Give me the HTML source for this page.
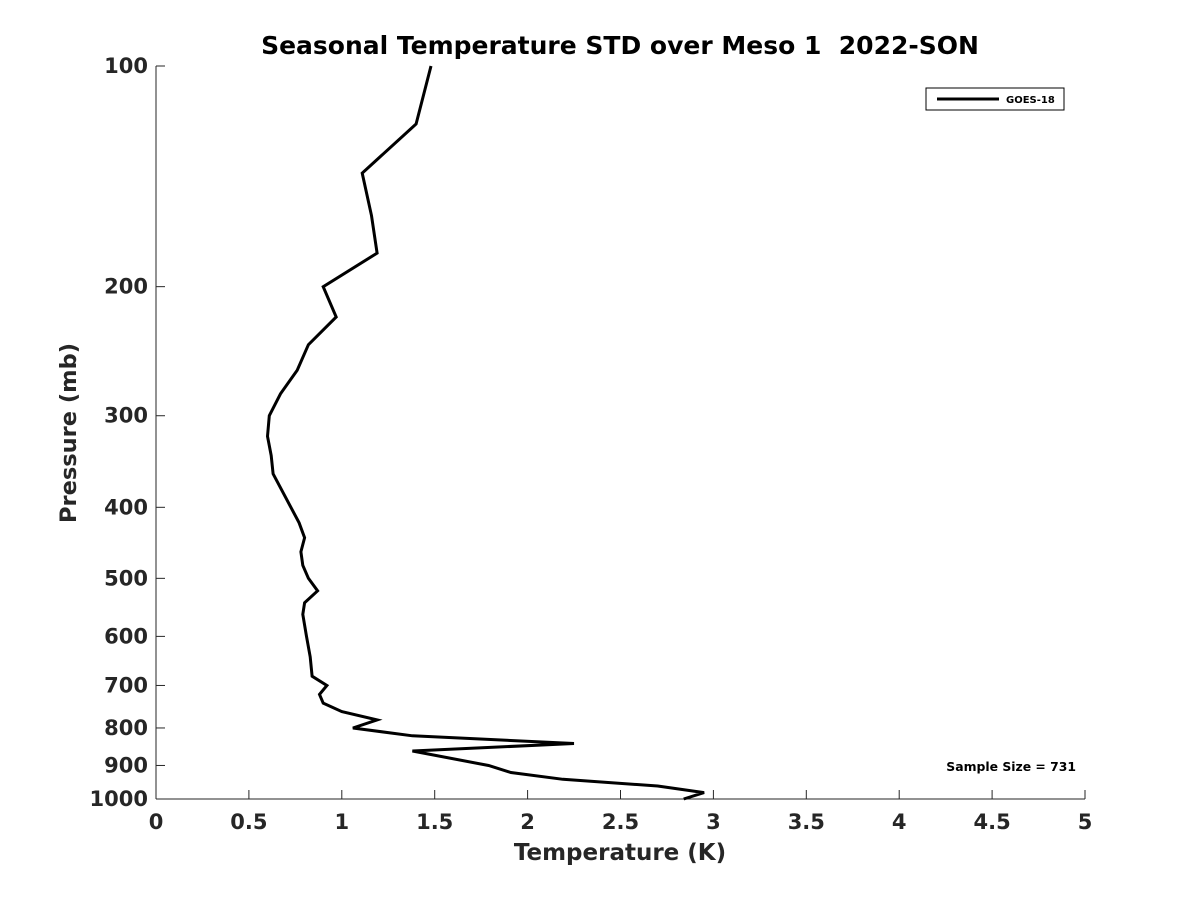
<!DOCTYPE html>
<html><head><meta charset="utf-8"><style>
body{margin:0;background:#fff;}
svg text{font-family:"DejaVu Sans","Liberation Sans",sans-serif;font-weight:bold;fill:#262626;}
</style></head><body>
<svg id="chart" width="1200" height="900" xmlns="http://www.w3.org/2000/svg">
<rect width="1200" height="900" fill="#fff"/>
<text x="620" y="54" text-anchor="middle" font-size="25" style="fill:#000;white-space:pre" xml:space="preserve">Seasonal Temperature STD over Meso 1  2022-SON</text>
<g id="axes"></g>
<polyline id="series" fill="none" stroke="#000" stroke-width="3" stroke-linejoin="miter"/>
<text x="620" y="860" text-anchor="middle" font-size="23">Temperature (K)</text>
<text transform="translate(76,433) rotate(-90)" text-anchor="middle" font-size="22.5">Pressure (mb)</text>
<g>
<rect x="926" y="88" width="138" height="22" fill="#fff" stroke="#000" stroke-width="1"/>
<line x1="937" y1="99" x2="999" y2="99" stroke="#000" stroke-width="3"/>
<text x="1006" y="103" font-size="10" style="fill:#000">GOES-18</text>
</g>
<text x="1076" y="771" text-anchor="end" font-size="12.4" style="fill:#000">Sample Size = 731</text>
</svg>
<script>
const pressures=[100,120,140,160,180,200,220,240,260,280,300,320,340,360,420,440,460,480,500,520,540,560,600,640,680,700,720,740,760,780,800,820,840,860,900,920,940,960,980,1000];
const stdValues=[1.48,1.40,1.11,1.16,1.19,0.90,0.97,0.82,0.76,0.67,0.61,0.60,0.62,0.63,0.77,0.80,0.78,0.79,0.82,0.87,0.80,0.79,0.81,0.83,0.84,0.92,0.88,0.90,1.00,1.19,1.06,1.38,2.25,1.38,1.79,1.91,2.19,2.70,2.95,2.84];
const xTicks=[0,0.5,1,1.5,2,2.5,3,3.5,4,4.5,5];
const yTicks=[100,200,300,400,500,600,700,800,900,1000];
const X0=156,X1=1085,Y0=66,Y1=799;
const sx=v=>X0+(v-0)/(5-0)*(X1-X0);
const sy=p=>Y0+(Math.log10(p)-2)*(Y1-Y0);
const NS="http://www.w3.org/2000/svg";
const g=document.getElementById('axes');
function mk(t,a){const e=document.createElementNS(NS,t);for(const k in a)e.setAttribute(k,a[k]);g.appendChild(e);return e;}
const xl=mk('line',{x1:X0,y1:Y1,x2:X1,y2:Y1,stroke:'#262626','stroke-width':1});


const yl=mk('line',{x1:X0,y1:Y0,x2:X0,y2:Y1,stroke:'#262626','stroke-width':1});


xTicks.forEach(v=>{
  const x=sx(v);
  mk('line',{x1:x,y1:Y1,x2:x,y2:Y1-9,stroke:'#262626','stroke-width':1});
  const t=mk('text',{x:x,y:Y1+30,'text-anchor':'middle','font-size':21});
  t.textContent=v;
  
  
});
yTicks.forEach(p=>{
  const y=sy(p);
  mk('line',{x1:X0,y1:y,x2:X0+9,y2:y,stroke:'#262626','stroke-width':1});
  const t=mk('text',{x:X0-8,y:y+7,'text-anchor':'end','font-size':21});
  t.textContent=p;
  
  
});
document.getElementById('series').setAttribute('points',pressures.map((p,i)=>sx(stdValues[i]).toFixed(1)+','+sy(p).toFixed(1)).join(' '));
</script>
</body></html>
